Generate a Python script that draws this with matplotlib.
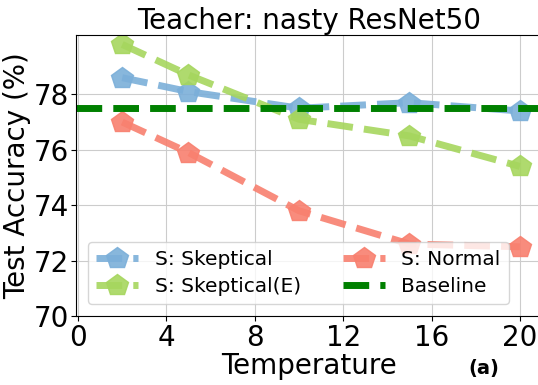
import matplotlib
matplotlib.use("Agg")
import matplotlib.pyplot as plt

temps = [2, 5, 10, 15, 20]
skeptical = [78.6, 78.1, 77.5, 77.7, 77.4]
skeptical_e = [79.8, 78.7, 77.1, 76.5, 75.4]
normal = [77.0, 75.9, 73.8, 72.6, 72.5]
baseline = 77.5

fig, ax = plt.subplots(figsize=(5.38, 3.85), dpi=100)

ax.plot(temps, skeptical, '--p', color='#7bafd9', lw=5, ms=16, alpha=0.9,
        label='S: Skeptical')
ax.plot(temps, skeptical_e, '--p', color='#a6d65e', lw=5, ms=16, alpha=0.9,
        label='S: Skeptical(E)')
ax.plot(temps, normal, '--p', color='#f8806f', lw=5, ms=16, alpha=0.9,
        label='S: Normal')
ax.axhline(baseline, ls='--', color='green', lw=5, label='Baseline')

ax.set_xlim(-0.09, 21.0)
ax.set_ylim(70, 80.14)
ax.set_xticks([0, 4, 8, 12, 16, 20])
ax.set_yticks([70, 72, 74, 76, 78])
ax.tick_params(labelsize=20)
ax.tick_params(axis='x', pad=2.5)
ax.tick_params(axis='y', pad=1.5)
ax.grid(True, color='#cccccc')
ax.set_xlabel('Temperature', fontsize=20, labelpad=0)
ax.set_ylabel('Test Accuracy (%)', fontsize=20, labelpad=2)
ax.set_title('Teacher: nasty ResNet50', fontsize=20, pad=0.5)
ax.legend(ncol=2, loc='lower left', fontsize=14.5, handlelength=2.1,
          handletextpad=0.8, columnspacing=2.1, labelspacing=0.4,
          borderaxespad=0.6)
fig.text(0.87, 0.018, '(a)', fontsize=14, fontweight='bold', va='bottom')

# axes run a little past the right edge of the figure
fig.subplots_adjust(left=0.1413, right=1.0074, top=0.909, bottom=0.179)
fig.savefig('out.png')
